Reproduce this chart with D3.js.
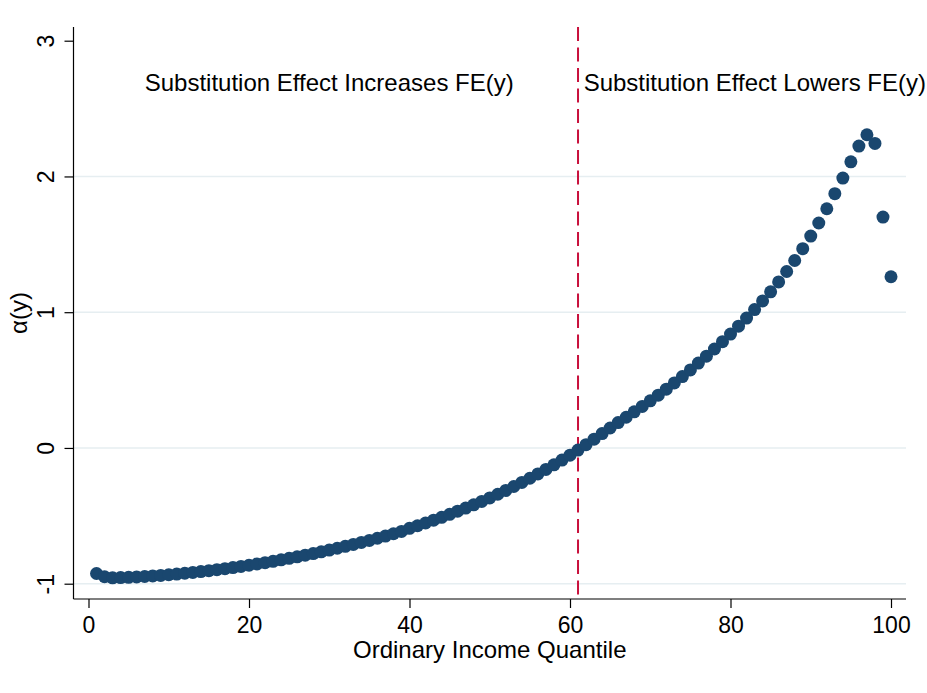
<!DOCTYPE html>
<html lang="en">
<head>
    <meta charset="utf-8">
    <title>alpha(y) by ordinary income quantile</title>
    <script src="https://d3js.org/d3.v7.min.js"></script>
    <style>
        body { margin: 0; background: #fff; }
        text { font-family: "Liberation Sans", Arial, Helvetica, sans-serif; fill: #000; }
    </style>
</head>
<body>
<div id="chart"></div>
<script>

/* ------------------------------------------------------------
 *  Data
 * ------------------------------------------------------------ */
var quantiles = d3.range(1, 101);
var alpha = [
    -0.925, -0.949, -0.957, -0.955, -0.953, -0.950, -0.947, -0.943, -0.939, -0.934,
    -0.929, -0.923, -0.917, -0.911, -0.904, -0.897, -0.889, -0.881, -0.873, -0.864,
    -0.855, -0.845, -0.835, -0.824, -0.813, -0.802, -0.790, -0.778, -0.765, -0.752,
    -0.739, -0.725, -0.711, -0.696, -0.681, -0.665, -0.649, -0.632, -0.615, -0.592,
    -0.573, -0.553, -0.532, -0.511, -0.489, -0.466, -0.443, -0.419, -0.394, -0.368,
    -0.341, -0.313, -0.284, -0.254, -0.223, -0.191, -0.158, -0.124, -0.089, -0.053,
    -0.016,  0.024,  0.065,  0.106,  0.147,  0.187,  0.226,  0.266,  0.306,  0.347,
     0.389,  0.433,  0.479,  0.526,  0.575,  0.625,  0.676,  0.729,  0.783,  0.839,
     0.897,  0.957,  1.019,  1.083,  1.150,  1.223,  1.300,  1.381,  1.468,  1.561,
     1.657,  1.762,  1.873,  1.988,  2.108,  2.224,  2.307,  2.243,  1.701,  1.261
];
var xTicks = [0, 20, 40, 60, 80, 100];
var yTicks = [-1, 0, 1, 2, 3];
var gridTicks = [-1, 0, 1, 2];
var cutoff = 61;
var notes = [
    {x: 7,  y: 2.7, label: "Substitution Effect Increases FE(y)"},
    {x: 61.7, y: 2.7, label: "Substitution Effect Lowers FE(y)"}
];

/* ------------------------------------------------------------
 *  Layout
 * ------------------------------------------------------------ */
var width = 927, height = 693;
var axisLeft = 73.5, axisBottom = 599, plotRight = 906, plotTop = 27;

var x = d3.scaleLinear().domain([0, 100]).range([88.5, 891]);
var y = d3.scaleLinear().domain([-1, 3]).range([583.7, 40.7]);

var svg = d3.select("#chart")
    .append("svg")
    .attr("width", width)
    .attr("height", height)
    .style("display", "block");

svg.append("rect").attr("width", width).attr("height", height).attr("fill", "white");

// gridlines
svg.append("g")
    .selectAll("line")
    .data(gridTicks)
    .enter()
    .append("line")
    .attr("x1", axisLeft)
    .attr("x2", plotRight)
    .attr("y1", d => y(d))
    .attr("y2", d => y(d))
    .attr("stroke", "#e6eef1")
    .attr("stroke-width", 1.5);

// y axis (plain hyphen for negatives, like the original)
var yAxis = d3.axisLeft(y).tickValues(yTicks).tickSize(9).tickPadding(11).tickFormat(d => String(d));
var gy = svg.append("g").attr("transform", `translate(${axisLeft},0)`).call(yAxis);
gy.select(".domain").attr("d", `M0,${plotTop}V${axisBottom}`).attr("stroke-width", 1.2);
gy.selectAll(".tick line").attr("stroke-width", 1.2);
gy.selectAll(".tick text")
    .attr("font-size", 23)
    .attr("font-family", null)
    .attr("x", null).attr("dy", null)
    .attr("text-anchor", "middle")
    .attr("transform", "translate(-20,0) rotate(-90)")
    .attr("y", 0);

// x axis
var xAxis = d3.axisBottom(x).tickValues(xTicks).tickSize(9).tickPadding(9).tickFormat(d => String(d));
var gx = svg.append("g").attr("transform", `translate(0,${axisBottom})`).call(xAxis);
gx.select(".domain").attr("d", `M${axisLeft},0H${plotRight}`).attr("stroke-width", 1.2);
gx.selectAll(".tick line").attr("stroke-width", 1.2);
gx.selectAll(".tick text").attr("font-size", 23).attr("font-family", null);

// axis titles
svg.append("text")
    .attr("x", (axisLeft + plotRight) / 2)
    .attr("y", 658)
    .attr("text-anchor", "middle")
    .attr("font-size", 24)
    .text("Ordinary Income Quantile");

svg.append("text")
    .attr("transform", `translate(27,${(plotTop + axisBottom) / 2}) rotate(-90)`)
    .attr("text-anchor", "middle")
    .attr("font-size", 24)
    .text("α(y)");

// cutoff line
svg.append("line")
    .attr("x1", x(cutoff)).attr("x2", x(cutoff))
    .attr("y1", plotTop).attr("y2", axisBottom)
    .attr("stroke", "#c8103c")
    .attr("stroke-width", 2)
    .attr("stroke-dasharray", "14,6.5");

// annotations
svg.append("g")
    .selectAll("text")
    .data(notes)
    .enter()
    .append("text")
    .attr("x", d => x(d.x))
    .attr("y", d => y(d.y) + 10)
    .attr("font-size", 24)
    .text(d => d.label);

// points
svg.append("g")
    .selectAll("circle")
    .data(quantiles)
    .enter()
    .append("circle")
    .attr("cx", d => x(d))
    .attr("cy", (d, i) => y(alpha[i]))
    .attr("r", 6.5)
    .attr("fill", "#1a476f");

</script>
</body>
</html>
